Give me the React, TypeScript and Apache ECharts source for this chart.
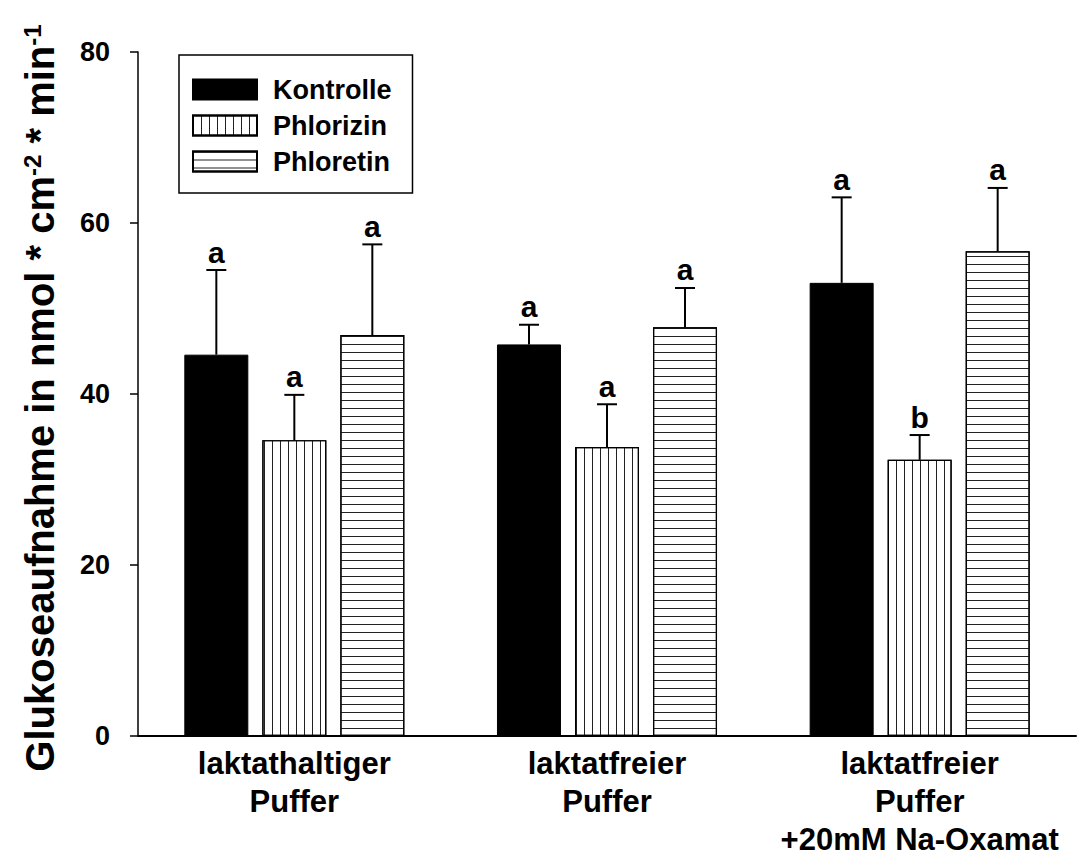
import React, { useEffect, useRef } from 'react';
import * as echarts from 'echarts';

const categories = ['laktathaltiger\nPuffer', 'laktatfreier\nPuffer', 'laktatfreier\nPuffer\n+20mM Na-Oxamat'];
const seriesNames = ['Kontrolle', 'Phlorizin', 'Phloretin'];
const kontrolle = [44.6, 45.8, 53.0];
const phlorizin = [34.6, 33.8, 32.3];
const phloretin = [46.9, 47.8, 56.7];
const kontrolleErr = [9.9, 2.3, 10.0];
const phlorizinErr = [5.3, 5.0, 2.9];
const phloretinErr = [10.6, 4.6, 7.4];
const kontrolleSig = ['a', 'a', 'a'];
const phlorizinSig = ['a', 'a', 'b'];
const phloretinSig = ['a', 'a', 'a'];
const yMin = 0;
const yMax = 80;
const yInterval = 20;

const FONT = 'Liberation Sans, Arial, Helvetica, sans-serif';

const values = [kontrolle, phlorizin, phloretin];
const errs = [kontrolleErr, phlorizinErr, phloretinErr];
const sigs = [kontrolleSig, phlorizinSig, phloretinSig];
const offsets = [-78, 0, 78];

const vLines = { symbol: 'rect', symbolSize: 1, color: '#222', dashArrayX: [1, 7], dashArrayY: [1, 0], rotation: 0 };
const hLines = { symbol: 'rect', symbolSize: 1, color: '#222', dashArrayX: [1, 0], dashArrayY: [1, 6.2], rotation: 0 };

const itemStyles: any[] = [
  { color: '#000', borderColor: '#000', borderWidth: 1 },
  { color: '#fff', borderColor: '#000', borderWidth: 1.2, decal: vLines },
  { color: '#fff', borderColor: '#000', borderWidth: 1.2, decal: hLines },
];

export default function App() {
  const ref = useRef<HTMLDivElement>(null);
  useEffect(() => {
    if (!ref.current) return;
    const chart = echarts.init(ref.current, null, { renderer: 'svg' });
    const barSeries = seriesNames.map((name, si) => ({
      name,
      type: 'bar',
      data: values[si],
      barWidth: 64,
      barGap: '21.9%',
      itemStyle: itemStyles[si],
      emphasis: { disabled: true },
      z: 2,
    }));
    const errSeries = seriesNames.map((name, si) => ({
      name: name + '_err',
      type: 'custom',
      z: 3,
      silent: true,
      data: values[si].map((v, i) => [i, v, errs[si][i]]),
      renderItem: (params: any, api: any) => {
        const ci = api.value(0);
        const v = api.value(1);
        const e = api.value(2);
        const base = api.coord([ci, v]);
        const top = api.coord([ci, v + e]);
        const x = base[0] + offsets[si];
        return {
          type: 'group',
          children: [
            { type: 'line', shape: { x1: x, y1: base[1], x2: x, y2: top[1] }, style: { stroke: '#000', lineWidth: 2 } },
            { type: 'line', shape: { x1: x - 10, y1: top[1], x2: x + 10, y2: top[1] }, style: { stroke: '#000', lineWidth: 2 } },
            {
              type: 'text',
              x,
              y: top[1] - 3,
              style: {
                text: sigs[si][params.dataIndex],
                fill: '#000',
                fontSize: 30,
                fontWeight: 'bold',
                fontFamily: FONT,
                align: 'center',
                verticalAlign: 'bottom',
              },
            },
          ],
        };
      },
    }));
    chart.setOption({
      animation: false,
      backgroundColor: '#fff',
      grid: { left: 138, right: 3, top: 52, bottom: 117, containLabel: false },
      legend: {
        data: seriesNames,
        orient: 'vertical',
        left: 179,
        top: 55,
        padding: [21, 21, 18, 13],
        borderColor: '#000',
        borderWidth: 1.5,
        itemWidth: 64,
        itemHeight: 20,
        itemGap: 9,
        icon: 'rect',
        selectedMode: false,
        textStyle: { fontSize: 27, fontWeight: 'bold', fontFamily: FONT, color: '#000', lineHeight: 20, padding: [0, 0, 0, 11] },
      },
      xAxis: {
        type: 'category',
        data: categories,
        axisLine: { show: true, lineStyle: { color: '#000', width: 2 } },
        axisTick: { show: false },
        axisLabel: { fontSize: 31, fontWeight: 'bold', fontFamily: FONT, color: '#000', lineHeight: 38, margin: 8, interval: 0 },
      },
      yAxis: {
        type: 'value',
        min: yMin,
        max: yMax,
        interval: yInterval,
        name: 'Glukoseaufnahme in nmol * cm{sup|-2} * min{sup|-1}',
        nameLocation: 'middle',
        nameRotate: 90,
        nameGap: 78,
        nameTextStyle: {
          fontSize: 40,
          fontWeight: 'bold',
          fontFamily: FONT,
          color: '#000',
          padding: [0, 8, 0, 0],
          rich: {
            sup: { fontSize: 24, fontWeight: 'bold', fontFamily: FONT, color: '#000', verticalAlign: 'top' },
          },
        },
        axisLine: { show: true, lineStyle: { color: '#000', width: 1.5 } },
        axisTick: { show: true, inside: false, length: 8, lineStyle: { color: '#000', width: 1.5 } },
        axisLabel: { fontSize: 27, fontWeight: 'bold', fontFamily: FONT, color: '#000', margin: 28 },
        splitLine: { show: false },
      },
      series: [...barSeries, ...errSeries],
    });
    return () => chart.dispose();
  }, []);
  return <div ref={ref} style={{ position: 'fixed', left: 0, top: 0, width: 1079, height: 858 }} />;
}
